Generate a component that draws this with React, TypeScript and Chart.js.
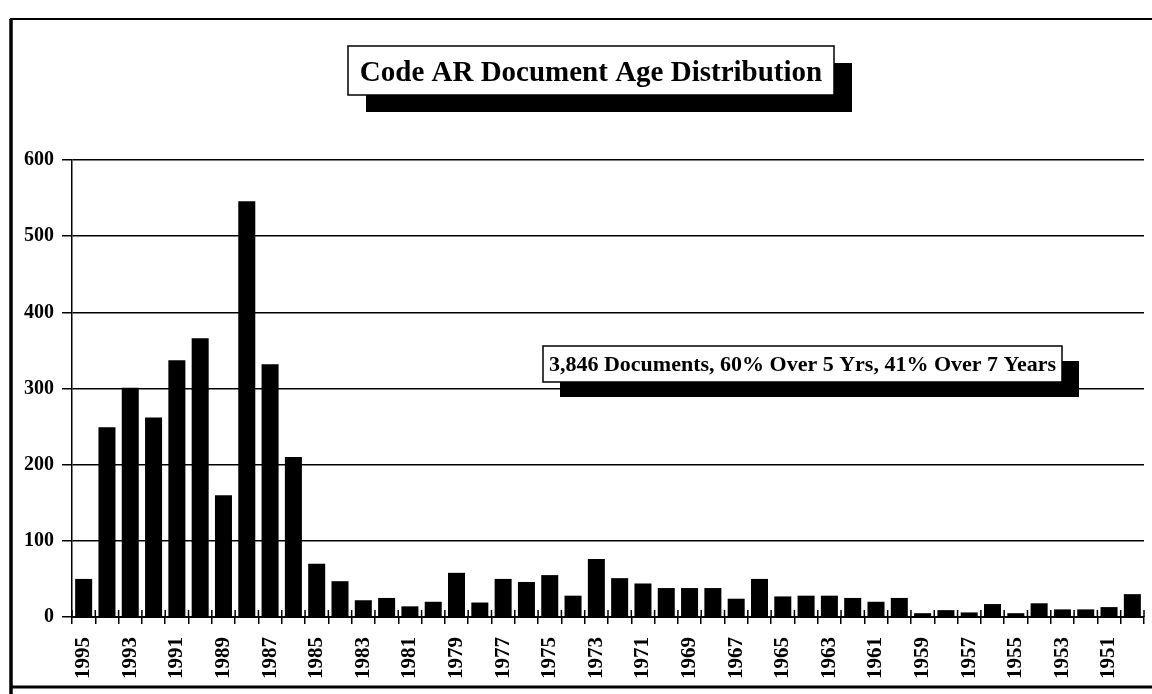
import React, { useEffect, useRef } from "react";
import { Chart, registerables } from "chart.js";

Chart.register(...registerables);

const years = [
  "1995", "1994", "1993", "1992", "1991", "1990", "1989", "1988", "1987", "1986",
  "1985", "1984", "1983", "1982", "1981", "1980", "1979", "1978", "1977", "1976",
  "1975", "1974", "1973", "1972", "1971", "1970", "1969", "1968", "1967", "1966",
  "1965", "1964", "1963", "1962", "1961", "1960", "1959", "1958", "1957", "1956",
  "1955", "1954", "1953", "1952", "1951", "1950",
];

const documentCounts = [
  50, 249, 301, 262, 337, 366, 160, 546, 332, 210,
  70, 47, 22, 25, 14, 20, 58, 19, 50, 46,
  55, 28, 76, 51, 44, 38, 38, 38, 24, 50,
  27, 28, 28, 25, 20, 25, 5, 9, 6, 17,
  5, 18, 10, 10, 13, 30,
];

const yMin = 0;
const yMax = 600;
const yStep = 100;

const titleText = "Code AR Document Age Distribution";
const noteText = "3,846 Documents, 60% Over 5 Yrs, 41% Over 7 Years";

const FONT = "'Liberation Serif', 'Times New Roman', serif";

function drawShadowBox(
  ctx: CanvasRenderingContext2D,
  x: number,
  y: number,
  w: number,
  h: number,
  dx: number,
  dy: number,
  text: string,
  font: string,
  baseline: number
) {
  ctx.save();
  ctx.fillStyle = "#000";
  ctx.fillRect(x + dx, y + dy, w, h);
  ctx.fillStyle = "#fff";
  ctx.fillRect(x, y, w, h);
  ctx.strokeStyle = "#000";
  ctx.lineWidth = 1.5;
  ctx.strokeRect(x, y, w, h);
  ctx.fillStyle = "#000";
  ctx.font = font;
  ctx.textAlign = "center";
  ctx.textBaseline = "alphabetic";
  ctx.fillText(text, x + w / 2, baseline);
  ctx.restore();
}

const decorPlugin = {
  id: "decor",
  beforeDraw(chart: any) {
    const ctx = chart.ctx as CanvasRenderingContext2D;
    ctx.save();
    ctx.fillStyle = "#fff";
    ctx.fillRect(0, 0, chart.width, chart.height);
    ctx.restore();
  },
  afterDraw(chart: any) {
    const ctx = chart.ctx as CanvasRenderingContext2D;
    const xs = chart.scales.x;
    const area = chart.chartArea;
    ctx.save();
    // frame
    ctx.strokeStyle = "#000";
    ctx.lineWidth = 3.5;
    ctx.beginPath();
    ctx.moveTo(11, 19);
    ctx.lineTo(11, 694);
    ctx.stroke();
    ctx.lineWidth = 2;
    ctx.beginPath();
    ctx.moveTo(10, 19);
    ctx.lineTo(1152, 19);
    ctx.stroke();
    ctx.lineWidth = 3;
    ctx.beginPath();
    ctx.moveTo(10, 687);
    ctx.lineTo(1152, 687);
    ctx.stroke();
    // tick marks crossing above the baseline
    const w = xs.getPixelForValue(1) - xs.getPixelForValue(0);
    const start = xs.getPixelForValue(0) - w / 2;
    ctx.lineWidth = 1.5;
    ctx.beginPath();
    for (let i = 0; i <= years.length; i++) {
      const px = start + i * w;
      ctx.moveTo(px, area.bottom - 7);
      ctx.lineTo(px, area.bottom);
    }
    ctx.stroke();
    ctx.restore();

    drawShadowBox(ctx, 348, 46, 486, 49, 18, 17, titleText, `bold 29px ${FONT}`, 81);
    drawShadowBox(ctx, 543, 346, 519, 36, 17, 15, noteText, `bold 22px ${FONT}`, 371);
  },
};

export default function App() {
  const canvasRef = useRef<HTMLCanvasElement | null>(null);

  useEffect(() => {
    if (!canvasRef.current) return;
    const chart = new Chart(canvasRef.current, {
      type: "bar",
      data: {
        labels: years,
        datasets: [
          {
            data: documentCounts,
            backgroundColor: "#000",
            borderWidth: 0,
            barPercentage: 0.73,
            categoryPercentage: 1.0,
          },
        ],
      },
      options: {
        responsive: false,
        animation: false,
        devicePixelRatio: 1,
        layout: { padding: { top: 160, right: 8, bottom: 0, left: 0 } },
        plugins: {
          legend: { display: false },
          tooltip: { enabled: false },
          title: { display: false },
        },
        scales: {
          x: {
            type: "category",
            afterFit: (s: any) => {
              s.height = 77;
              s.paddingLeft = 0;
              s.paddingRight = 0;
            },
            grid: {
              display: true,
              drawOnChartArea: false,
              drawTicks: true,
              tickLength: 7,
              color: "#000",
              lineWidth: 1.5,
              offset: true,
            },
            border: { display: true, color: "#000", width: 2 },
            ticks: {
              autoSkip: false,
              maxRotation: 90,
              minRotation: 90,
              padding: 13,
              color: "#000",
              font: { family: FONT, size: 21, weight: "bold" },
              callback: (_v: any, i: number) => (i % 2 === 0 ? years[i] : ""),
            },
          },
          y: {
            min: yMin,
            max: yMax,
            afterFit: (s: any) => {
              s.width = 72;
              s.paddingTop = 0;
              s.paddingBottom = 0;
            },
            grid: {
              color: "#000",
              lineWidth: 1.5,
              drawTicks: true,
              tickLength: 10,
            },
            border: { display: true, color: "#000", width: 1.5 },
            ticks: {
              stepSize: yStep,
              padding: 8,
              color: "#000",
              font: { family: FONT, size: 20, weight: "bold" },
            },
          },
        },
      } as any,
      plugins: [decorPlugin],
    });
    return () => chart.destroy();
  }, []);

  return (
    <div style={{ position: "absolute", left: 0, top: 0, width: 1152, height: 694, background: "#fff" }}>
      <canvas ref={canvasRef} width={1152} height={694} style={{ display: "block" }} />
    </div>
  );
}
